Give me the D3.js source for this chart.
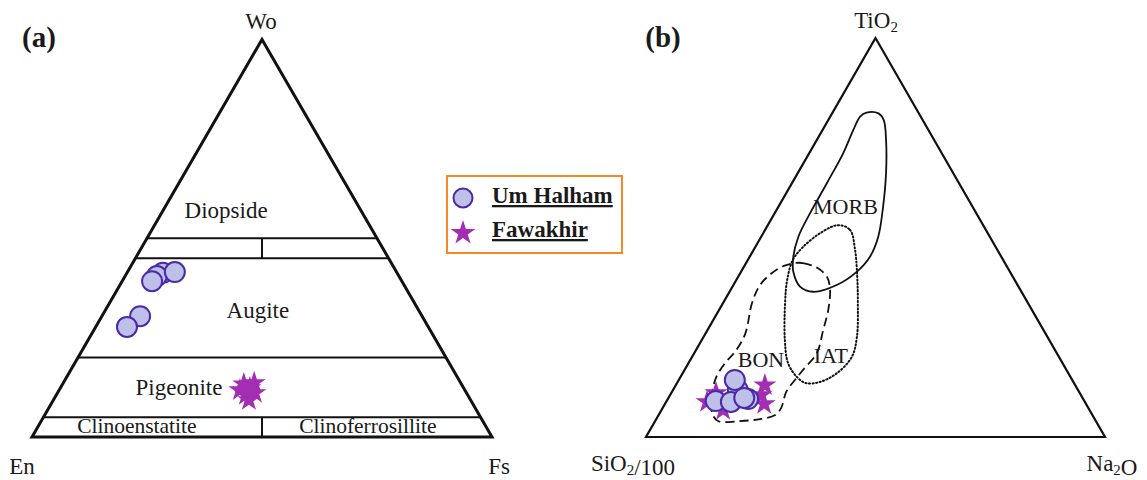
<!DOCTYPE html>
<html>
<head>
<meta charset="utf-8">
<script src="https://cdn.jsdelivr.net/npm/d3@7"></script>
<style>
  body { margin: 0; background: #fff; }
  svg text { font-family: "Liberation Serif", "Times New Roman", serif; fill: #1a1a1a; }
</style>
</head>
<body>
<svg id="chart" width="1147" height="480"></svg>
<script>
// Pyroxene quadrilateral (a) and cpx TiO2-Na2O-SiO2/100 discrimination (b).

// (a) field boundaries, Wo %
const woLevels = [50, 45, 20, 5];
const fieldLabelsA = [
  { name: "Diopside", wo: 55, fs: 14.7 },
  { name: "Augite", wo: 30, fs: 34.1 },
  { name: "Pigeonite", wo: 10.5, fs: 26.7 },
  { name: "Clinoenstatite", wo: 1, fs: 22.3 },
  { name: "Clinoferrosillite", wo: 1, fs: 72.5 }
];
// (a) samples as [Wo, Fs]
const umHalhamA = [[41.3, 7.8], [40.5, 6.9], [39.2, 6.5], [41.5, 10.3], [30.4, 8.3], [27.7, 6.8]];
const fawakhirA = [[13.3, 39.4], [11.8, 39.3], [12.3, 41.2], [13.6, 41.5], [10.6, 41.2], [11.1, 42.9], [9.3, 42.5]];

// (b) fields as [TiO2, Na2O]
const morbField = [[80.3, 6.5], [81.3, 7.4], [81.1, 10.1], [79.4, 12.1], [74.4, 15.1], [66.2, 19.2], [57.7, 22.8],
  [50.2, 25.5], [45.2, 26.2], [41.4, 25.2], [38.1, 22.5], [36.4, 18.3], [37.7, 14.7], [41.4, 11.4],
  [45.2, 9.5], [50.2, 8.1], [56.1, 7.7], [63.6, 7.6], [71.1, 7.4], [76.9, 6.7]];
const iatField = [[53.1, 15.3], [51.9, 18.5], [46.9, 22.1], [40.6, 25.7], [34.3, 29.0], [25.1, 33.4], [20.1, 34.8],
  [16.0, 33.6], [13.8, 31.0], [13.5, 28.1], [15.0, 25.4], [18.5, 21.7], [24.3, 18.1], [33.6, 13.5],
  [39.3, 11.1], [44.4, 9.8], [47.6, 10.4], [51.1, 12.4]];
const bonField = [[43.6, 10.7], [43.6, 12.4], [42.4, 16.1], [40.1, 19.4], [36.8, 21.7], [31.8, 23.8], [26.8, 25.2],
  [21.1, 26.7], [16.8, 25.8], [14.3, 25.3], [11.3, 24.9], [7.3, 25.8], [5.5, 25.4], [4.5, 22.6],
  [4.0, 18.5], [4.0, 13.7], [6.0, 11.4], [10.5, 9.1], [15.0, 7.8], [18.8, 8.0], [21.3, 8.7],
  [25.8, 8.7], [33.6, 6.3], [38.1, 5.8], [41.1, 6.9], [42.9, 8.6]];
const fieldLabelsB = [
  { name: "MORB", ti: 55.9, na: 15.5 },
  { name: "BON", ti: 17.5, na: 16.3 },
  { name: "IAT", ti: 18.5, na: 31 }
];
// (b) samples as [TiO2, Na2O]
const fawakhirB = [[11.0, 9.75], [8.8, 8.9], [6.8, 13.4], [13.0, 19.4], [10.5, 19.8], [8.3, 21.6]];
const umHalhamB = [[11.8, 14.1], [14.3, 12.2], [9.5, 17.5], [9.0, 10.7], [8.8, 14.1], [9.8, 16.5]];

const seriesNames = ["Um Halham", "Fawakhir"];

const circleFill = "#bfc0e9";
const circleStroke = "#4a2ba6";
const starFill = "#a32db3";

const svg = d3.select("#chart");

// ternary frame: apex over base centre; top component -> y, right + top/2 -> x
function ternary(left, right, base, apex) {
  const y = d3.scaleLinear().domain([0, 100]).range([base, apex]);
  const x = d3.scaleLinear().domain([0, 100]).range([left, right]);
  return (top, r) => [x(r + top / 2), y(top)];
}

const pa = ternary(32, 492, 437, 39.5);
const pb = ternary(646, 1105, 437, 38);

const star = d3.symbol().type(d3.symbolStar).size(165);

// ---------- panel (a) ----------
const ga = svg.append("g");

ga.append("path")
  .attr("d", d3.line()([pa(100, 0), pa(0, 100), pa(0, 0)]) + "Z")
  .attr("fill", "none")
  .attr("stroke", "#111")
  .attr("stroke-width", 3)
  .attr("stroke-linejoin", "miter");

woLevels.forEach(w => {
  ga.append("line")
    .attr("x1", pa(w, 0)[0]).attr("y1", pa(w, 0)[1])
    .attr("x2", pa(w, 100 - w)[0]).attr("y2", pa(w, 100 - w)[1])
    .attr("stroke", "#111").attr("stroke-width", 2);
});
// En = Fs dividers
[[45, 50], [0, 5]].forEach(([w0, w1]) => {
  ga.append("line")
    .attr("x1", pa(w0, (100 - w0) / 2)[0]).attr("y1", pa(w0, (100 - w0) / 2)[1])
    .attr("x2", pa(w1, (100 - w1) / 2)[0]).attr("y2", pa(w1, (100 - w1) / 2)[1])
    .attr("stroke", "#111").attr("stroke-width", 2);
});

ga.selectAll(".field-a")
  .data(fieldLabelsA)
  .join("text")
  .attr("class", "field-a")
  .attr("x", d => pa(d.wo, d.fs)[0])
  .attr("y", d => pa(d.wo, d.fs)[1])
  .attr("text-anchor", "middle")
  .attr("font-size", d => d.wo < 5 ? 21.5 : 23)
  .text(d => d.name);

ga.selectAll(".star-a")
  .data(fawakhirA)
  .join("path")
  .attr("class", "star-a")
  .attr("d", star)
  .attr("transform", d => `translate(${pa(d[0], d[1])})`)
  .attr("fill", starFill);

ga.selectAll(".dot-a")
  .data(umHalhamA)
  .join("circle")
  .attr("class", "dot-a")
  .attr("cx", d => pa(d[0], d[1])[0])
  .attr("cy", d => pa(d[0], d[1])[1])
  .attr("r", 10)
  .attr("fill", circleFill)
  .attr("stroke", circleStroke)
  .attr("stroke-width", 2);

ga.append("text").attr("x", 261).attr("y", 29).attr("text-anchor", "middle").attr("font-size", 23).text("Wo");
ga.append("text").attr("x", 22).attr("y", 474).attr("text-anchor", "middle").attr("font-size", 23).text("En");
ga.append("text").attr("x", 499).attr("y", 474).attr("text-anchor", "middle").attr("font-size", 23).text("Fs");
ga.append("text").attr("x", 39).attr("y", 47).attr("text-anchor", "middle")
  .attr("font-size", 29).attr("font-weight", "bold").text("(a)");

// ---------- legend ----------
const lg = svg.append("g");
lg.append("rect")
  .attr("x", 447).attr("y", 176).attr("width", 175).attr("height", 77)
  .attr("fill", "#fff").attr("stroke", "#f28a26").attr("stroke-width", 2);
lg.append("circle").attr("cx", 463).attr("cy", 198).attr("r", 9.5)
  .attr("fill", circleFill).attr("stroke", circleStroke).attr("stroke-width", 2);
lg.append("path").attr("d", d3.symbol().type(d3.symbolStar).size(190)())
  .attr("transform", "translate(463,233)").attr("fill", starFill);
lg.selectAll(".leg-text")
  .data(seriesNames)
  .join("text")
  .attr("class", "leg-text")
  .attr("x", 492)
  .attr("y", (d, i) => 203 + i * 34)
  .attr("font-size", 23)
  .attr("font-weight", "bold")
  .style("text-decoration", "underline")
  .text(d => d);

// ---------- panel (b) ----------
const gb = svg.append("g");

gb.append("path")
  .attr("d", d3.line()([pb(100, 0), pb(0, 100), pb(0, 0)]) + "Z")
  .attr("fill", "none")
  .attr("stroke", "#111")
  .attr("stroke-width", 2.2);

const blob = d3.line().curve(d3.curveCatmullRomClosed.alpha(0.5));

gb.append("path")
  .attr("d", blob(morbField.map(d => pb(d[0], d[1]))))
  .attr("fill", "none").attr("stroke", "#111").attr("stroke-width", 1.8);
gb.append("path")
  .attr("d", blob(iatField.map(d => pb(d[0], d[1]))))
  .attr("fill", "none").attr("stroke", "#111").attr("stroke-width", 2)
  .attr("stroke-dasharray", "1.2,2.4").attr("stroke-linecap", "round");
gb.append("path")
  .attr("d", blob(bonField.map(d => pb(d[0], d[1]))))
  .attr("fill", "none").attr("stroke", "#111").attr("stroke-width", 1.8)
  .attr("stroke-dasharray", "9,5");

gb.selectAll(".field-b")
  .data(fieldLabelsB)
  .join("text")
  .attr("class", "field-b")
  .attr("x", d => pb(d.ti, d.na)[0])
  .attr("y", d => pb(d.ti, d.na)[1])
  .attr("text-anchor", "middle")
  .attr("font-size", 22)
  .text(d => d.name);

gb.selectAll(".star-b")
  .data(fawakhirB)
  .join("path")
  .attr("class", "star-b")
  .attr("d", star)
  .attr("transform", d => `translate(${pb(d[0], d[1])})`)
  .attr("fill", starFill);

gb.selectAll(".dot-b")
  .data(umHalhamB)
  .join("circle")
  .attr("class", "dot-b")
  .attr("cx", d => pb(d[0], d[1])[0])
  .attr("cy", d => pb(d[0], d[1])[1])
  .attr("r", 10)
  .attr("fill", circleFill)
  .attr("stroke", circleStroke)
  .attr("stroke-width", 2);

function chemLabel(g, x, y, parts) {
  const t = g.append("text").attr("x", x).attr("y", y).attr("text-anchor", "middle").attr("font-size", 23);
  parts.forEach(([s, sub]) => {
    if (sub) {
      t.append("tspan").attr("font-size", 15).attr("dy", 4).text(s);
      t.append("tspan").attr("dy", -4).text("");
    } else {
      t.append("tspan").text(s);
    }
  });
}
chemLabel(gb, 876, 28, [["TiO"], ["2", true]]);
chemLabel(gb, 633, 471, [["SiO"], ["2", true], ["/100"]]);
chemLabel(gb, 1112, 471, [["Na"], ["2", true], ["O"]]);
gb.append("text").attr("x", 663).attr("y", 47).attr("text-anchor", "middle")
  .attr("font-size", 29).attr("font-weight", "bold").text("(b)");
</script>
</body>
</html>
